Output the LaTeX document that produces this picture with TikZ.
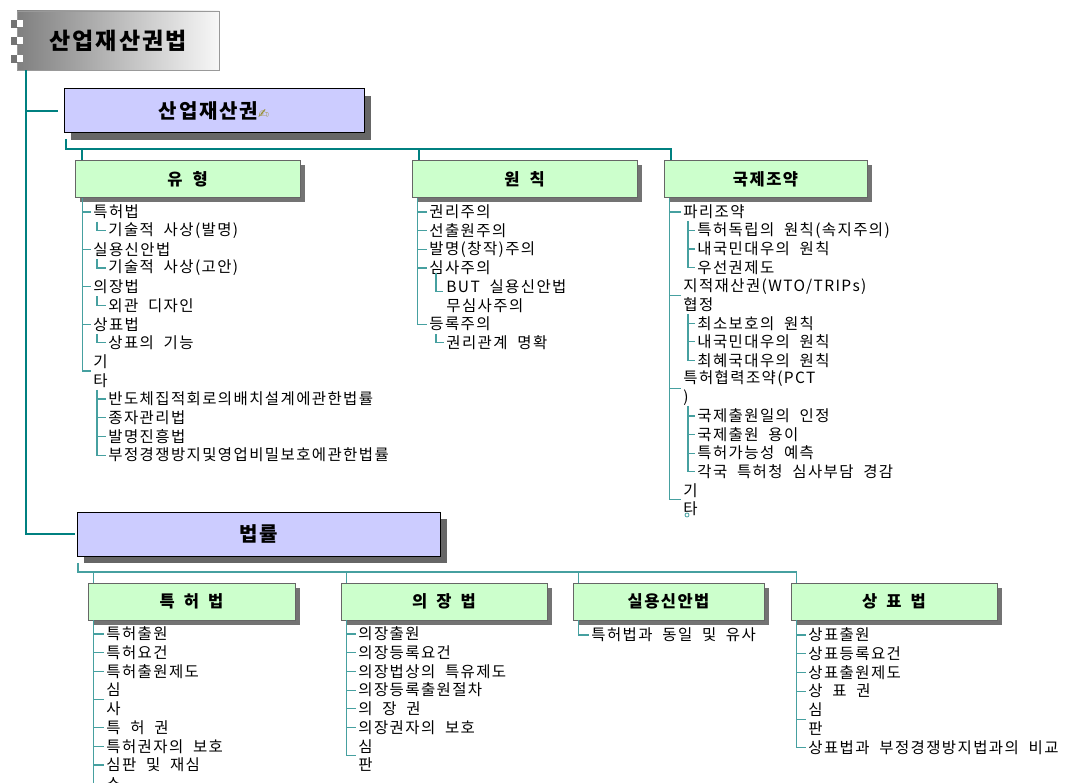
\documentclass[tikz,border=0pt]{standalone}
\usepackage{fontspec}
\setmainfont{Noto Sans CJK KR}[LetterSpace=9,WordSpace=2]
\newfontfamily\symfont{DejaVu Sans}
\usetikzlibrary{shadows}

\definecolor{trunkteal}{RGB}{0,128,128}
\definecolor{listteal}{RGB}{70,160,160}
\definecolor{lavender}{RGB}{204,204,255}
\definecolor{mint}{RGB}{204,255,204}
\definecolor{penolive}{RGB}{150,140,40}

\begin{document}
\begin{tikzpicture}[
    x=1pt, y=-1pt,
    thick
]

\tikzstyle{titlebox}=[
    draw=black!40,
    left color=black!50,
    right color=black!3,
    minimum width=202pt,
    minimum height=59pt,
    font=\bfseries\fontsize{23}{23}\selectfont
]
\tikzstyle{bluebox}=[
    draw=black,
    line width=1pt,
    fill=lavender,
    minimum height=44pt,
    font=\bfseries\fontsize{20}{20}\selectfont,
    drop shadow={shadow xshift=7pt, shadow yshift=-7pt, fill=black!60, opacity=1}
]
\tikzstyle{greenbox}=[
    draw=black!60,
    fill=mint,
    minimum height=37pt,
    font=\bfseries\fontsize{16.5}{17}\selectfont,
    drop shadow={shadow xshift=5pt, shadow yshift=-5pt, fill=black!55, opacity=1}
]
\tikzstyle{item}=[
    anchor=west,
    inner sep=0pt,
    align=left,
    font=\fontsize{15.5}{18.6}\selectfont
]
\tikzstyle{trunk}=[draw=trunkteal, line width=2pt]
\tikzstyle{bus}=[draw=listteal, line width=1.5pt]
\tikzstyle{twig}=[draw=listteal, line width=1.2pt]

\useasboundingbox (0,0) rectangle (1079,783);
\clip (0,0) rectangle (1079,783);

% title
\node[titlebox] (title) at (118,40.5) {산업재산권법};
\foreach \y in {24,41,59} {
    \fill[black!55] (11,\y-4) rectangle (18,\y+4);
    \fill[white] (17,\y-3.5) rectangle (23,\y+3.5);
}

\node[bluebox, minimum width=300pt] (sk) at (214,111) {산업재산권{\symfont\bfseries\color{penolive}\fontsize{13}{13}\selectfont ✍}};
\node[bluebox, minimum width=363pt] (bl) at (258.5,534) {법률};

\node[greenbox, minimum width=225pt] (yu) at (187.5,179) {유\hspace{10pt}형};
\node[greenbox, minimum width=225pt] (wc) at (524.5,179) {원\hspace{10pt}칙};
\node[greenbox, minimum width=203pt] (gk) at (765.5,179) {국제조약};

\node[greenbox, minimum width=207pt] (tp) at (191.5,601.5) {특\hspace{9pt}허\hspace{9pt}법};
\node[greenbox, minimum width=206pt] (ui) at (444,601.5) {의\hspace{9pt}장\hspace{9pt}법};
\node[greenbox, minimum width=191pt] (sy) at (668.5,601.5) {실용신안법};
\node[greenbox, minimum width=206pt] (sp) at (894,601.5) {상\hspace{9pt}표\hspace{9pt}법};

% trunk
\coordinate (tr) at ([xshift=9pt]title.south west);
\draw[trunk] (tr) |- ([xshift=-2pt]bl.west);
\draw[trunk] (tr |- sk.west) -- ([xshift=-6pt]sk.west);

\coordinate (bus1) at (66,149);
\draw[trunk] (bus1) ++(0,-10) -- (bus1) -| ([xshift=7pt]gk.north west);
\foreach \n in {yu,wc}
    \draw[trunk] ([xshift=7pt]\n.north west) -- ++(0,-12);

\coordinate (bus2) at (78,572);
\draw[bus] (bus2) ++(0,-9) -- (bus2) -| ([xshift=6pt]sp.north west);
\foreach \n in {tp,ui,sy}
    \draw[bus] ([xshift=6pt]\n.north west) -- ++(0,-11);

% 유형
\foreach \r/\t in {0/특허법,2/실용신안법,4/의장법,6/상표법}
    \node[item] (yu\r) at (93,212+\r*18.7) {\t};
\foreach \r/\t in {1/기술적 사상(발명),3/기술적 사상(고안),5/외관 디자인,7/상표의 기능}
    \node[item] (yu\r) at (108,212+\r*18.7) {\t};
\node[item] (yu8) at (93,212+8.5*18.7) {기\\타};
\foreach \r/\t in {10/반도체집적회로의배치설계에관한법률,11/종자관리법,12/발명진흥법,13/부정경쟁방지및영업비밀보호에관한법률}
    \node[item] (yu\r) at (108,212+\r*18.7) {\t};

\coordinate (yuL) at ([xshift=8pt]yu.south west);
\draw[twig] (yuL) |- ([xshift=-2pt]yu8.west);
\foreach \n in {0,2,4,6}
    \draw[twig] (yu\n.west -| yuL) -- ([xshift=-2pt]yu\n.west);
\foreach \n in {1,3,5,7}
    \draw[twig] ([xshift=-11pt,yshift=9pt]yu\n.west) |- ([xshift=-2pt]yu\n.west);
\coordinate (yuS) at (97,390);
\draw[twig] (yuS) |- ([xshift=-2pt]yu13.west);
\foreach \n in {10,11,12}
    \draw[twig] (yu\n.west -| yuS) -- ([xshift=-2pt]yu\n.west);

% 원칙
\foreach \r/\t in {0/권리주의,1/선출원주의,2/발명(창작)주의,3/심사주의,6/등록주의}
    \node[item] (wc\r) at (429,212+\r*18.7) {\t};
\node[item] (wc4) at (446,212+4.5*18.7) {BUT 실용신안법\\무심사주의};
\node[item] (wc7) at (446,212+7*18.7) {권리관계 명확};

\coordinate (wcL) at ([xshift=6pt]wc.south west);
\draw[twig] (wcL) |- ([xshift=-2pt]wc6.west);
\foreach \n in {0,1,2,3}
    \draw[twig] (wc\n.west -| wcL) -- ([xshift=-2pt]wc\n.west);
\draw[twig] ([xshift=-10pt,yshift=23pt]wc4.west) |- ([xshift=-3pt,yshift=5pt]wc4.west);
\draw[twig] ([xshift=-10pt,yshift=9pt]wc7.west) |- ([xshift=-2pt]wc7.west);

% 국제조약
\node[item] (gk0) at (683,212) {파리조약};
\node[item] (gk4) at (683,212+4.5*18.55) {지적재산권(WTO/TRIPs)\\협정};
\node[item] (gk9) at (683,212+9.5*18.55) {특허협력조약(PCT\\)};
\node[item] (gk15) at (683,212+15.5*18.55) {기\\타};
\foreach \r/\t in {1/특허독립의 원칙(속지주의),2/내국민대우의 원칙,3/우선권제도,
                   6/최소보호의 원칙,7/내국민대우의 원칙,8/최혜국대우의 원칙,
                   11/국제출원일의 인정,12/국제출원 용이,13/특허가능성 예측,14/각국 특허청 심사부담 경감}
    \node[item] (gk\r) at (697,212+\r*18.55) {\t};

\coordinate (gkL) at ([xshift=6pt]gk.south west);
\draw[twig] (gkL) |- ([xshift=-2pt]gk15.west);
\foreach \n in {0,4,9}
    \draw[twig] (gk\n.west -| gkL) -- ([xshift=-2pt]gk\n.west);
\coordinate (gkA) at (688,221);
\coordinate (gkB) at (688,314);
\coordinate (gkC) at (688,406);
\draw[twig] (gkA) |- ([xshift=-2pt]gk3.west);
\draw[twig] (gkB) |- ([xshift=-2pt]gk8.west);
\draw[twig] (gkC) |- ([xshift=-2pt]gk14.west);
\foreach \n in {1,2}
    \draw[twig] (gk\n.west -| gkA) -- ([xshift=-2pt]gk\n.west);
\foreach \n in {6,7}
    \draw[twig] (gk\n.west -| gkB) -- ([xshift=-2pt]gk\n.west);
\foreach \n in {11,12,13}
    \draw[twig] (gk\n.west -| gkC) -- ([xshift=-2pt]gk\n.west);
\draw[listteal, line width=0.8pt] (687,515) circle (2pt);

% 특허법
\foreach \r/\t in {0/특허출원,1/특허요건,2/특허출원제도,5/특 허 권,6/특허권자의 보호,7/심판 및 재심,8/소}
    \node[item] (tp\r) at (106,634+\r*18.7) {\t};
\node[item] (tp3) at (106,634+3.5*18.7) {심\\사};

\coordinate (tpL) at ([xshift=6pt]tp.south west);
\draw[twig] (tpL) -- ++(0,180);
\foreach \n in {0,1,2,3,5,6,7}
    \draw[twig] (tp\n.west -| tpL) -- ([xshift=-2pt]tp\n.west);

% 의장법
\foreach \r/\t in {0/의장출원,1/의장등록요건,2/의장법상의 특유제도,3/의장등록출원절차,4/의 장 권,5/의장권자의 보호}
    \node[item] (ui\r) at (358,634+\r*18.7) {\t};
\node[item] (ui6) at (358,634+6.5*18.7) {심\\판};

\coordinate (uiL) at ([xshift=6pt]ui.south west);
\draw[twig] (uiL) |- ([xshift=-2pt]ui6.west);
\foreach \n in {0,1,2,3,4,5}
    \draw[twig] (ui\n.west -| uiL) -- ([xshift=-2pt]ui\n.west);

% 실용신안법
\node[item] (sy0) at (591,635) {특허법과 동일 및 유사};
\draw[twig] ([xshift=6pt]sy.south west) |- ([xshift=-2pt]sy0.west);

% 상표법
\foreach \r/\t in {0/상표출원,1/상표등록요건,2/상표출원제도,3/상 표 권,6/상표법과 부정경쟁방지법과의 비교}
    \node[item] (sp\r) at (808,635+\r*18.7) {\t};
\node[item] (sp4) at (808,635+4.5*18.7) {심\\판};

\coordinate (spL) at ([xshift=6pt]sp.south west);
\draw[twig] (spL) |- ([xshift=-2pt]sp6.west);
\foreach \n in {0,1,2,3,4}
    \draw[twig] (sp\n.west -| spL) -- ([xshift=-2pt]sp\n.west);

\end{tikzpicture}
\end{document}
